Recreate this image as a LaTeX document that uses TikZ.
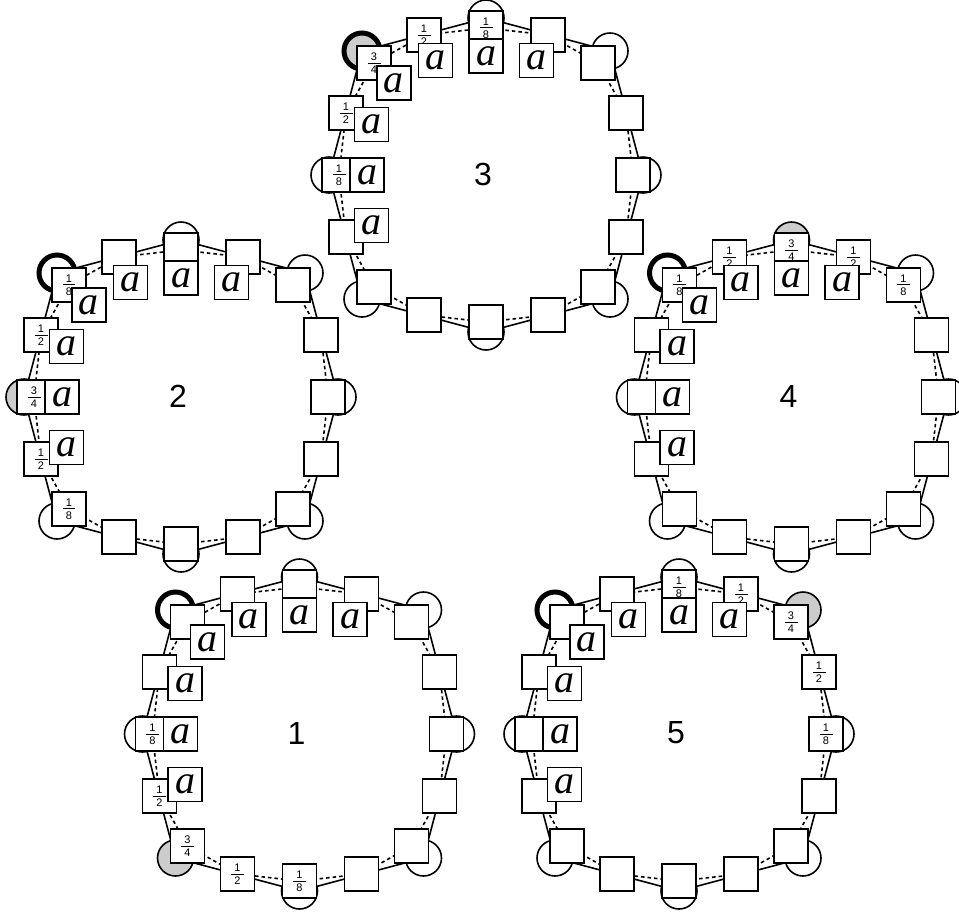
\documentclass[tikz,border=0pt]{standalone}
\usepackage{fontspec}
\setmainfont{Liberation Sans}
\newfontfamily\afont{Liberation Serif}
\usetikzlibrary{calc}
\definecolor{sitegray}{gray}{0.8}
\newcommand{\fr}[2]{\vbox{\hbox to 13pt{\hss#1\hss}\kern2.3pt\hrule height 0.8pt\kern2.3pt\hbox to 13pt{\hss#2\hss}}}
\newcommand{\buildring}[7]{%
  \coordinate (#1c) at (#2,#3);
  \foreach \dx/\dy [count=\j from 0] in {0/-147,62/-140,112/-112,140/-62,147/0,140/62,112/112,62/140,0/147,-62/140,-112/112,-140/62,-147/0,-140/-62,-112/-112,-62/-140}
    {\coordinate (#1q\j) at ($(#1c)+(\dx,\dy)$);}
  \foreach \j/\dx/\dy in {0/0/-157,2/124/-124,4/157/0,6/124/124,8/0/157,10/-124/124,12/-157/0,14/-124/-124}
    {\coordinate (#1s\j) at ($(#1c)+(\dx,\dy)$);}
  \draw[solidring] (#1s0) -- (#1s2) -- (#1s4) -- (#1s6) -- (#1s8) -- (#1s10) -- (#1s12) -- (#1s14) -- cycle;
  \draw[dashring] (#1q0) -- (#1q1) -- (#1q2) -- (#1q3) -- (#1q4) -- (#1q5) -- (#1q6) -- (#1q7) -- (#1q8) -- (#1q9) -- (#1q10) -- (#1q11) -- (#1q12) -- (#1q13) -- (#1q14) -- (#1q15) -- cycle;
  \foreach \j/\f/\w in {#5}{\node[site, fill=\f, line width=\w] (#1o\j) at (#1s\j) {};}
  \foreach \ct [count=\j from 0] in {#6}{\node[sq] (#1b\j) at (#1q\j) {\ct};}
  \foreach \j in {#7}{\node[asq] (#1a\j) at ($(#1q\j)!28pt!(#1c)$) {a};}
  \node[ringnum] (#1n) at ($(#1c)+(-3,-1)$) {#4};
}
\begin{document}
\begin{tikzpicture}[x=1pt,y=-1pt,
  sq/.style={draw, line width=1.6pt, fill=white, minimum size=34pt, inner sep=0pt, font=\fontsize{11}{13}\selectfont},
  asq/.style={sq, font=\afont\itshape\fontsize{40}{40}\selectfont},
  site/.style={draw, circle, minimum size=36pt, inner sep=0pt},
  solidring/.style={line width=1.6pt, line join=round},
  dashring/.style={line width=1.6pt, dash pattern=on 3.5pt off 3pt},
  ringnum/.style={font=\fontsize{32}{32}\selectfont, inner sep=0pt}]
\useasboundingbox (0,0) rectangle (959,914);
\buildring{r1}{299.5}{734}{1}
  {0/white/1.6pt,2/white/1.6pt,4/white/1.6pt,6/white/1.6pt,8/white/1.6pt,10/sitegray/1.6pt,12/white/1.6pt,14/white/5pt}
  {{},{},{},{},{},{},{},{},\fr18,\fr12,\fr34,\fr12,\fr18,{},{},{}}
  {11,12,13,14,15,0,1}
\buildring{r2}{181}{397}{2}
  {0/white/1.6pt,2/white/1.6pt,4/white/1.6pt,6/white/1.6pt,8/white/1.6pt,10/white/1.6pt,12/sitegray/1.6pt,14/white/5pt}
  {{},{},{},{},{},{},{},{},{},{},\fr18,\fr12,\fr34,\fr12,\fr18,{}}
  {11,12,13,14,15,0,1}
\buildring{r3}{486}{175}{3}
  {0/white/1.6pt,2/white/1.6pt,4/white/1.6pt,6/white/1.6pt,8/white/1.6pt,10/white/1.6pt,12/white/1.6pt,14/sitegray/5pt}
  {\fr18,{},{},{},{},{},{},{},{},{},{},{},\fr18,\fr12,\fr34,\fr12}
  {11,12,13,14,15,0,1}
\buildring{r4}{791.5}{397}{4}
  {0/sitegray/1.6pt,2/white/1.6pt,4/white/1.6pt,6/white/1.6pt,8/white/1.6pt,10/white/1.6pt,12/white/1.6pt,14/white/5pt}
  {\fr34,\fr12,\fr18,{},{},{},{},{},{},{},{},{},{},{},\fr18,\fr12}
  {11,12,13,14,15,0,1}
\buildring{r5}{679}{734}{5}
  {0/white/1.6pt,2/sitegray/1.6pt,4/white/1.6pt,6/white/1.6pt,8/white/1.6pt,10/white/1.6pt,12/white/1.6pt,14/white/5pt}
  {\fr18,\fr12,\fr34,\fr12,\fr18,{},{},{},{},{},{},{},{},{},{},{}}
  {11,12,13,14,15,0,1}
\end{tikzpicture}
\end{document}
